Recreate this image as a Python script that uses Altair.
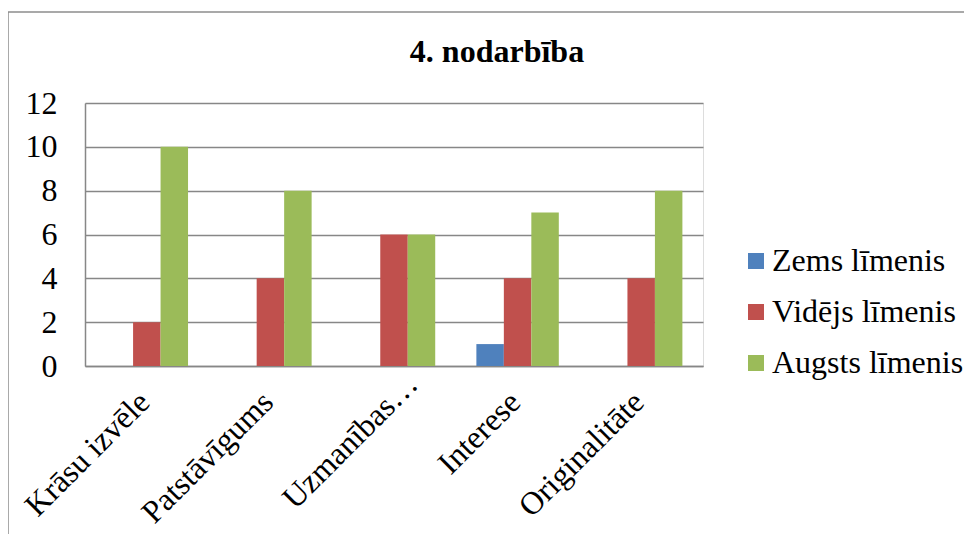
import altair as alt
import pandas as pd

title_text = "4. nodarbība"
categories = ["Krāsu izvēle", "Patstāvīgums", "Uzmanības…", "Interese", "Originalitāte"]
series = ["Zems līmenis", "Vidējs līmenis", "Augsts līmenis"]
zems = [0, 0, 0, 1, 0]
videjs = [2, 4, 6, 4, 4]
augsts = [10, 8, 6, 7, 8]
colors = ["#4F81BD", "#C0504D", "#9BBB59"]
y_ticks = [0, 2, 4, 6, 8, 10, 12]

rows = []
for s, vals in zip(series, [zems, videjs, augsts]):
    for c, v in zip(categories, vals):
        rows.append({"kategorija": c, "sērija": s, "vērtība": v})
df = pd.DataFrame(rows)

FONT = "Liberation Serif"
GRAY = "#878787"
FS = 32
W, H = 618, 263
truncated = "datum.value == 'Uzmanības…'"

bars = alt.Chart(df).mark_bar().encode(
    x=alt.X(
        "kategorija:N", sort=categories,
        scale=alt.Scale(paddingInner=0.333, paddingOuter=0.1667),
        axis=alt.Axis(title=None, labelAngle=-45, labelAlign="right", labelBaseline="top",
                      labelFontSize=FS, labelFont=FONT, labelColor="black",
                      labelPadding=alt.condition(truncated, alt.value(2), alt.value(20)),
                      labelOffset=alt.condition(truncated, alt.value(8), alt.value(-13)),
                      ticks=False, domainColor=GRAY, domainWidth=1.5, grid=False, labelLimit=400),
    ),
    xOffset=alt.XOffset("sērija:N", sort=series, scale=alt.Scale(paddingInner=0, paddingOuter=0)),
    y=alt.Y(
        "vērtība:Q", scale=alt.Scale(domain=[0, 12]),
        axis=alt.Axis(title=None, values=y_ticks, labelFontSize=FS, labelFont=FONT, labelColor="black",
                      labelPadding=28, ticks=False, domainColor=GRAY, domainWidth=1.5,
                      gridColor=GRAY, gridWidth=1.3),
    ),
    color=alt.Color(
        "sērija:N", sort=series,
        scale=alt.Scale(domain=series, range=colors),
        legend=alt.Legend(title=None, orient="none", legendX=655, legendY=142,
                          symbolType="square", symbolSize=256, symbolStrokeWidth=0,
                          labelFontSize=FS, labelFont=FONT, labelColor="black", labelOffset=0,
                          rowPadding=19, labelLimit=400),
    ),
)

one = alt.Data(values=[{"t": title_text}])
title = alt.Chart(one).mark_text(font=FONT, fontSize=FS, fontWeight="bold", color="black",
                                 align="center", baseline="alphabetic").encode(
    text="t:N", x=alt.value(412), y=alt.value(-41)
)
top_line = alt.Chart(one).mark_rule(color="#8c8c8c", strokeWidth=1.5).encode(
    x=alt.value(-77), x2=alt.value(879), y=alt.value(-91)
)
left_line = alt.Chart(one).mark_rule(color="#8c8c8c", strokeWidth=1.5).encode(
    x=alt.value(-77), y=alt.value(-91), y2=alt.value(431)
)

chart = alt.layer(bars, title, top_line, left_line).properties(
    width=W, height=H,
    autosize=alt.AutoSizeParams(type="none"),
    padding={"left": 77, "top": 95, "right": 261, "bottom": 168},
).configure_view(stroke=None).configure(background="white", font=FONT)

chart.save("out.html", embed_options={"renderer": "svg", "actions": False})
